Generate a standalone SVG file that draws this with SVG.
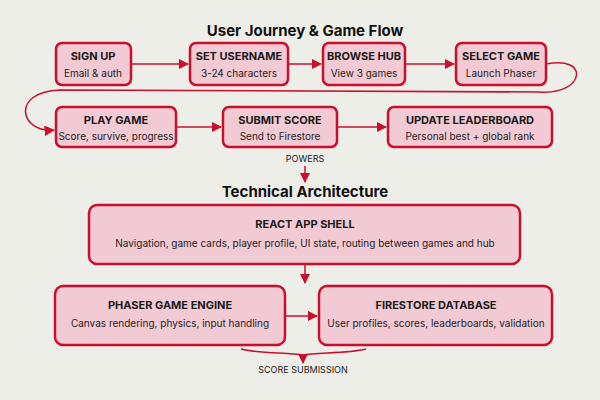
<svg xmlns="http://www.w3.org/2000/svg" width="600" height="400" viewBox="0 0 600 400">
<defs>
<marker id="ah" viewBox="0 0 10 10" refX="9" refY="5" markerWidth="7" markerHeight="7" orient="auto"><path d="M0,0 L10,5 L0,10 z" fill="#c8102e"/></marker>
<style>
.b{fill:#f2cad3;stroke:#c8102e;stroke-width:2.5}
.t{font-family:Inter,"Liberation Sans",sans-serif;font-weight:700;font-size:11px;fill:#1a1a1a;text-anchor:middle}
.s{font-family:Inter,"Liberation Sans",sans-serif;font-size:10px;fill:#222;text-anchor:middle}
.h{font-family:Inter,"Liberation Sans",sans-serif;font-weight:700;font-size:15px;fill:#111;text-anchor:middle}
.l{font-family:Inter,"Liberation Sans",sans-serif;font-size:9px;fill:#222;text-anchor:middle}
.c{fill:none;stroke:#c8102e;stroke-width:1.5}
</style>
</defs>
<rect width="600" height="400" fill="#eeeee8"/>
<text class="h" x="305" y="36">User Journey &amp; Game Flow</text>
<text class="h" x="305" y="197">Technical Architecture</text>
<g id="n1"><rect class="b" x="56" y="43" width="75" height="42" rx="6"/><text class="t" x="93" y="60">SIGN UP</text><text class="s" x="93" y="77">Email &amp; auth</text></g>
<g id="n2"><rect class="b" x="190" y="43" width="98" height="42" rx="6"/><text class="t" x="239" y="60">SET USERNAME</text><text class="s" x="239" y="77">3-24 characters</text></g>
<g id="n3"><rect class="b" x="323" y="43" width="82" height="42" rx="6"/><text class="t" x="364" y="60">BROWSE HUB</text><text class="s" x="364" y="77">View 3 games</text></g>
<g id="n4"><rect class="b" x="456" y="43" width="90" height="42" rx="6"/><text class="t" x="501" y="60">SELECT GAME</text><text class="s" x="501" y="77">Launch Phaser</text></g>
<g id="n5"><rect class="b" x="56" y="107" width="120" height="40" rx="6"/><text class="t" x="116" y="124">PLAY GAME</text><text class="s" x="116" y="140">Score, survive, progress</text></g>
<g id="n6"><rect class="b" x="223" y="107" width="114" height="40" rx="6"/><text class="t" x="280" y="124">SUBMIT SCORE</text><text class="s" x="280" y="140">Send to Firestore</text></g>
<g id="n7"><rect class="b" x="388" y="107" width="164" height="40" rx="6"/><text class="t" x="470" y="124">UPDATE LEADERBOARD</text><text class="s" x="470" y="140">Personal best + global rank</text></g>
<g id="n8"><rect class="b" x="89" y="205" width="431" height="59" rx="8"/><text class="t" x="305" y="228">REACT APP SHELL</text><text class="s" x="305" y="247">Navigation, game cards, player profile, UI state, routing between games and hub</text></g>
<g id="n9"><rect class="b" x="55" y="286" width="230" height="59" rx="8"/><text class="t" x="170" y="309">PHASER GAME ENGINE</text><text class="s" x="170" y="327">Canvas rendering, physics, input handling</text></g>
<g id="n10"><rect class="b" x="319" y="286" width="233" height="59" rx="8"/><text class="t" x="436" y="309">FIRESTORE DATABASE</text><text class="s" x="436" y="327">User profiles, scores, leaderboards, validation</text></g>
<g id="connectors">
<line class="c" x1="131" y1="64" x2="188" y2="64" marker-end="url(#ah)"/>
<line class="c" x1="288" y1="64" x2="321" y2="64" marker-end="url(#ah)"/>
<line class="c" x1="405" y1="64" x2="454" y2="64" marker-end="url(#ah)"/>
<path class="c" d="M546,64 C590,55 585,95 540,92 L60,90 C10,92 20,133 54,130" marker-end="url(#ah)"/>
<line class="c" x1="176" y1="127" x2="221" y2="127" marker-end="url(#ah)"/>
<line class="c" x1="337" y1="127" x2="386" y2="127" marker-end="url(#ah)"/>
<line class="c" x1="305" y1="166" x2="305" y2="182" marker-end="url(#ah)"/>
<line class="c" x1="305" y1="264" x2="305" y2="283" marker-end="url(#ah)"/>
<line class="c" x1="285" y1="316" x2="317" y2="316" marker-end="url(#ah)"/>
<path class="c" d="M241,349 C260,354 290,352 303,355 C316,352 346,354 366,349"/>
<line class="c" x1="303" y1="355" x2="303" y2="363" marker-end="url(#ah)"/>
</g>
<text class="l" x="305" y="162">POWERS</text>
<text class="l" x="303" y="373">SCORE SUBMISSION</text>
</svg>
